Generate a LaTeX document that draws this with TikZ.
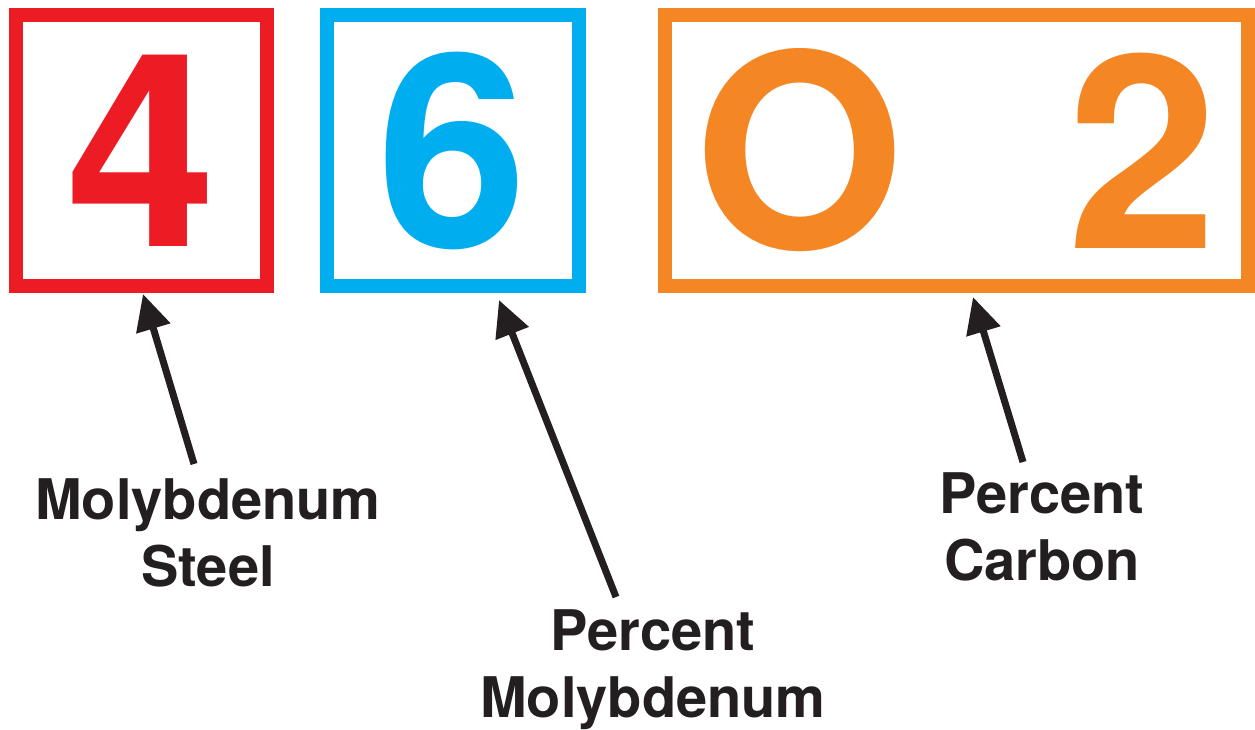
\documentclass[tikz,border=0pt]{standalone}
\usepackage{fontspec}
\setmainfont{TeX Gyre Heros}
\usetikzlibrary{arrows.meta}
\definecolor{gradered}{HTML}{ED1C24}
\definecolor{gradeblue}{HTML}{00AEEF}
\definecolor{gradeorange}{HTML}{F58624}
\definecolor{labelink}{HTML}{231F20}
\tikzset{
  digitbox/.style={draw=#1, line width=14pt, text=#1, inner sep=0pt,
    font=\fontsize{270}{270}\selectfont\bfseries},
  callout/.style={text=labelink, align=center, inner sep=0pt,
    font=\fontsize{56}{67}\selectfont\bfseries},
  pointer/.style={draw=labelink, line width=7pt,
    -{Triangle[length=36pt,width=34pt]}}
}
\begin{document}
\begin{tikzpicture}[x=1pt,y=-1pt]
  \useasboundingbox (0,0) rectangle (1255,730);
  \begin{scope}
    \node[digitbox=gradered, minimum width=251pt, minimum height=271pt] (b4) at (141.5,150.5) {4};
    \node[digitbox=gradeblue, minimum width=252pt, minimum height=271pt] (b6) at (453,150.5) {6};
    \node[digitbox=gradeorange, minimum width=583pt, minimum height=271pt] (b02) at (956.5,150.5)
      {O\hspace{163pt}2};
  \end{scope}

  \node[callout, anchor=north] (l4) at (208,478) {Molybdenum\\Steel};
  \node[callout, anchor=north] (l6) at (653,609) {Percent\\Molybdenum};
  \node[callout, anchor=north] (l02) at (1042,472) {Percent\\Carbon};

  \coordinate (t4) at (143,294);
  \coordinate (t6) at (499,300);
  \coordinate (t02) at (973,297);

  \draw[pointer] ([shift={(-14,-14)}]l4.north) -- (t4);
  \draw[pointer] ([shift={(-37,-12)}]l6.north) -- (t6);
  \draw[pointer] ([shift={(-19,-10)}]l02.north) -- (t02);
\end{tikzpicture}
\end{document}
